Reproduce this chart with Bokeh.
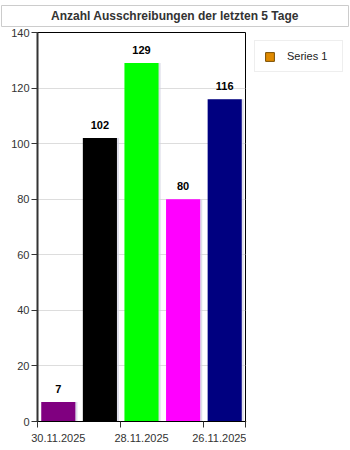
from bokeh.plotting import figure
from bokeh.layouts import column, row
from bokeh.models import FixedTicker, Legend, LegendItem, ColumnDataSource, Range1d
from bokeh.core.properties import value
from bokeh.embed import file_html
from bokeh.resources import INLINE

categories = ["30.11.2025", "29.11.2025", "28.11.2025", "27.11.2025", "26.11.2025"]
values = [7, 102, 129, 80, 116]
colors = ["#800080", "#000000", "#00ff00", "#ff00ff", "#000080"]
series_name = "Series 1"
title_text = "Anzahl Ausschreibungen der letzten 5 Tage"

FONT = "Liberation Sans"

# ---- title strip ----
tf = figure(width=350, height=27, output_backend="svg", toolbar_location=None,
            x_range=Range1d(0, 1), y_range=Range1d(0, 1),
            x_axis_location=None, y_axis_location=None,
            min_border_left=1, min_border_right=2, min_border_top=5, min_border_bottom=1)
tf.xgrid.visible = False
tf.ygrid.visible = False
tf.outline_line_color = "#cccccc"
tf.text(x=[0.5], y=[0.5], text=[title_text], text_align="center", text_baseline="middle",
        text_font=value(FONT), text_font_size="12px", text_font_style="bold",
        text_color="#333333")

# ---- chart ----
xs = [i + 0.5 for i in range(len(categories))]
src = ColumnDataSource(dict(x=xs, top=values, color=colors,
                            label=[str(v) for v in values],
                            sx=[x + 0.05 for x in xs]))

p = figure(width=246, height=423, output_backend="svg", toolbar_location=None,
           x_range=Range1d(0, 5), y_range=Range1d(0, 140),
           min_border_left=37, min_border_right=1, min_border_top=5, min_border_bottom=29)

p.vbar(x="sx", top="top", width=0.82, source=src, fill_color="#d0d0e0",
       line_color=None, fill_alpha=0.7)
p.vbar(x="x", top="top", width=0.82, source=src, fill_color="color", line_color=None)
p.text(x="x", y="top", text="label", source=src, text_align="center",
       text_baseline="bottom", y_offset=-9, text_font=value(FONT), text_font_size="11px",
       text_font_style="bold", text_color="#000000")

p.outline_line_color = "#000000"
p.background_fill_color = "white"
p.border_fill_color = "white"
p.xgrid.grid_line_color = None
p.ygrid.grid_line_color = "#dddddd"
p.ygrid.ticker = FixedTicker(ticks=list(range(0, 141, 20)))

p.yaxis.ticker = FixedTicker(ticks=list(range(0, 141, 20)))
p.yaxis.axis_line_color = "#333333"
p.yaxis.axis_line_width = 2
p.yaxis.major_tick_line_color = "#333333"
p.yaxis.major_tick_out = 6
p.yaxis.major_tick_in = 0
p.yaxis.minor_tick_line_color = None
p.yaxis.major_label_text_font = FONT
p.yaxis.major_label_text_font_size = "11px"
p.yaxis.major_label_text_color = "#333333"
p.yaxis.major_label_standoff = 2

p.xaxis.ticker = FixedTicker(ticks=[0.5, 2.5, 4.5], minor_ticks=[0, 2, 4, 5])
p.xaxis.major_label_overrides = {0.5: categories[0], 2.5: categories[2], 4.5: categories[4]}
p.xaxis.axis_line_color = "#000000"
p.xaxis.major_tick_out = 0
p.xaxis.major_tick_in = 0
p.xaxis.minor_tick_out = 6
p.xaxis.minor_tick_in = 0
p.xaxis.minor_tick_line_color = "#333333"
p.xaxis.major_label_text_font = FONT
p.xaxis.major_label_text_font_size = "11px"
p.xaxis.major_label_text_color = "#333333"
p.xaxis.major_label_standoff = 6

# ---- legend strip ----
lf = figure(width=104, height=423, output_backend="svg", toolbar_location=None,
            x_range=Range1d(0, 1), y_range=Range1d(0, 1),
            x_axis_location=None, y_axis_location=None,
            min_border_left=0, min_border_right=0, min_border_top=0, min_border_bottom=0)
lf.xgrid.visible = False
lf.ygrid.visible = False
lf.outline_line_color = None
leg_r = lf.vbar(x=[-10], top=[0], width=0.5, fill_color="#e08a00", line_color="#7a4e00")
legend = Legend(items=[LegendItem(label=series_name, renderers=[leg_r])],
                location="top_left", border_line_color="#dddddd",
                label_text_font=FONT, label_text_font_size="11px",
                label_text_color="#222222", glyph_width=11, glyph_height=11,
                label_width=46, padding=9, margin=8, spacing=0, label_standoff=12)
lf.add_layout(legend)

layout = column(tf, row(p, lf, spacing=0), spacing=0)
open("out.html", "w").write(file_html(layout, INLINE))
